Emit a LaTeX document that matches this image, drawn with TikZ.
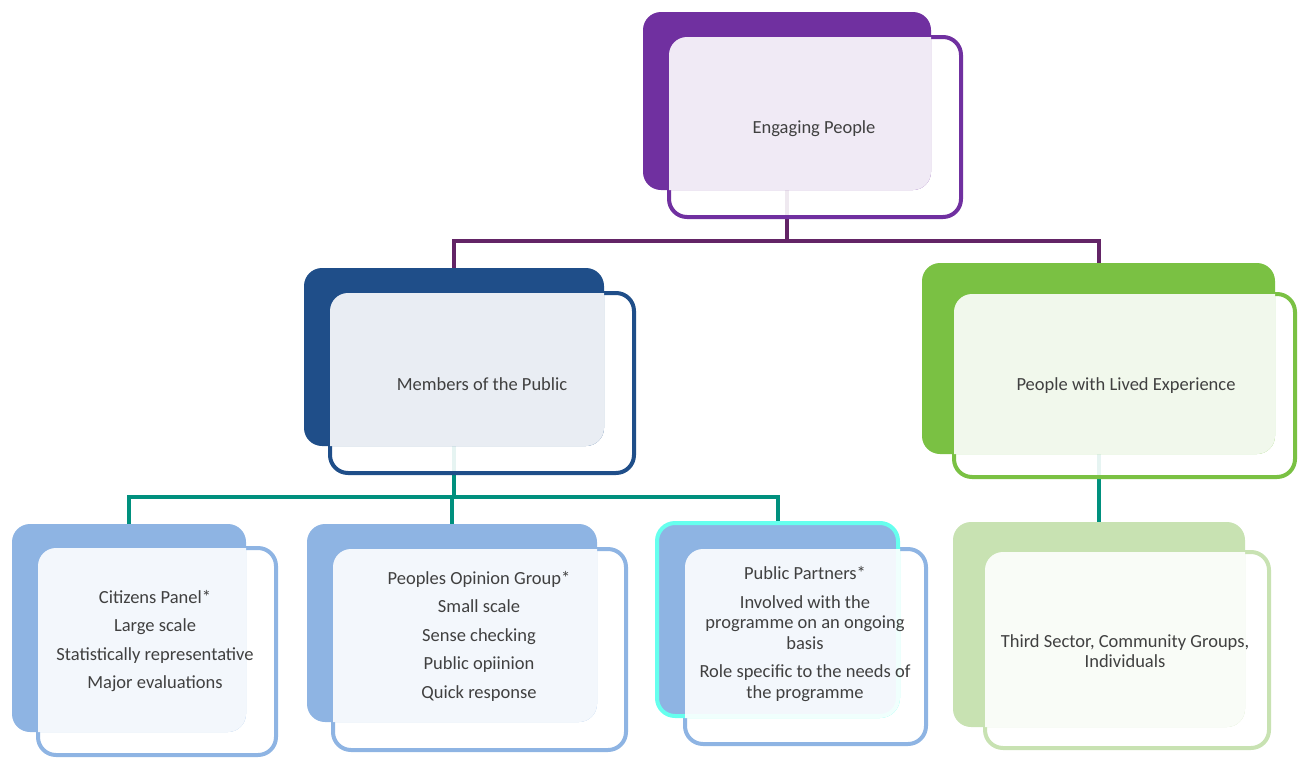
\documentclass[tikz,border=0pt]{standalone}
\usepackage{fontspec}
\setmainfont{Carlito}
\usetikzlibrary{backgrounds}
\definecolor{cPurple}{HTML}{7030A0}
\definecolor{cPurpleLine}{HTML}{632466}
\definecolor{cNavy}{HTML}{1F4E89}
\definecolor{cGreen}{HTML}{7AC143}
\definecolor{cSky}{HTML}{8EB4E3}
\definecolor{cCyan}{HTML}{66FFEE}
\definecolor{cPale}{HTML}{C8E2B2}
\definecolor{cTeal}{HTML}{00907E}
\definecolor{cText}{HTML}{404040}
\begin{document}
\begin{tikzpicture}[x=1pt,y=-1pt,
  backbox/.style={rectangle, rounded corners=18pt, inner sep=0pt, outer sep=0pt},
  outbox/.style={rectangle, rounded corners=18pt, inner sep=0pt, outer sep=0pt, line width=4pt, fill=white, fill opacity=0.9},
  panel/.style={fill=white, opacity=0.9},
  lbl/.style={align=center, text=cText, font=\fontsize{18.5}{20.5}\selectfont, inner sep=0pt},
  conn/.style={line width=4pt}]
\useasboundingbox (0,0) rectangle (1298,758);

% ---------- Engaging People
\node[outbox, draw=cPurple, minimum width=292pt, minimum height=180pt] (epO) at (815,127) {};
\node[backbox, fill=cPurple, minimum width=288pt, minimum height=178pt] (epB) at (787,101) {};
\begin{scope}
\clip[rounded corners=18pt] (epO.south west) rectangle (epO.north east);
\fill[panel, rounded corners=18pt] (epB.south west) rectangle (epB.north east);
\end{scope}
\node[lbl] (epT) at (814,129) {Engaging People};

% ---------- Members of the Public
\node[outbox, draw=cNavy, minimum width=304pt, minimum height=180pt] (mpO) at (482,383) {};
\node[backbox, fill=cNavy, minimum width=300pt, minimum height=178pt] (mpB) at (454,357) {};
\begin{scope}
\clip[rounded corners=18pt] (mpO.south west) rectangle (mpO.north east);
\fill[panel, rounded corners=18pt] (mpB.south west) rectangle (mpB.north east);
\end{scope}
\node[lbl] (mpT) at (482,384) {Members of the Public};

% ---------- People with Lived Experience
\node[outbox, draw=cGreen, minimum width=341pt, minimum height=183pt] (leO) at (1124.5,385.5) {};
\node[backbox, fill=cGreen, minimum width=353pt, minimum height=191pt] (leB) at (1098.5,358.5) {};
\begin{scope}
\clip[rounded corners=18pt] (leO.south west) rectangle (leO.north east);
\fill[panel, rounded corners=18pt] (leB.south west) rectangle (leB.north east);
\end{scope}
\node[lbl] (leT) at (1126,386) {People with Lived Experience};

% ---------- Citizens Panel
\node[outbox, draw=cSky, minimum width=238pt, minimum height=207pt] (cpO) at (157,651.5) {};
\node[backbox, fill=cSky, minimum width=234pt, minimum height=208pt] (cpB) at (129,628) {};
\begin{scope}
\clip[rounded corners=18pt] (cpO.south west) rectangle (cpO.north east);
\fill[panel, rounded corners=18pt] (cpB.south west) rectangle (cpB.north east);
\end{scope}
\node[lbl] (cpT) at (155,641) {Citizens Panel*\\[8pt]Large scale\\[8pt]Statistically representative\\[8pt]Major evaluations};

% ---------- Peoples Opinion Group
\node[outbox, draw=cSky, minimum width=293pt, minimum height=201pt] (pgO) at (479.5,649.5) {};
\node[backbox, fill=cSky, minimum width=290pt, minimum height=198pt] (pgB) at (452,623) {};
\begin{scope}
\clip[rounded corners=18pt] (pgO.south west) rectangle (pgO.north east);
\fill[panel, rounded corners=18pt] (pgB.south west) rectangle (pgB.north east);
\end{scope}
\node[lbl] (pgT) at (479,636) {Peoples Opinion Group*\\[8pt]Small scale\\[8pt]Sense checking\\[8pt]Public opiinion\\[8pt]Quick response};

% ---------- Public Partners
\node[outbox, draw=cSky, minimum width=241pt, minimum height=195pt] (ppO) at (805.5,646.5) {};
\node[backbox, fill=cSky, draw=cCyan, line width=4pt, outer sep=2pt, minimum width=241pt, minimum height=193pt] (ppB) at (777.5,619.5) {};
\begin{scope}
\clip[rounded corners=18pt] (ppO.south west) rectangle (ppO.north east);
\fill[panel, rounded corners=20pt] (ppB.south west) rectangle (ppB.north east);
\end{scope}
\node[lbl] (ppT) at (805,634) {Public Partners*\\[8pt]Involved with the\\programme on an ongoing\\basis\\[8pt]Role specific to the needs of\\the programme};

% ---------- Third Sector
\node[outbox, draw=cPale, minimum width=284pt, minimum height=196pt] (tsO) at (1127,650) {};
\node[backbox, fill=cPale, minimum width=292pt, minimum height=205pt] (tsB) at (1099,624.5) {};
\begin{scope}
\clip[rounded corners=18pt] (tsO.south west) rectangle (tsO.north east);
\fill[panel, rounded corners=18pt] (tsB.south west) rectangle (tsB.north east);
\end{scope}
\node[lbl] (tsT) at (1125,651) {Third Sector, Community Groups,\\Individuals};

% ---------- connectors
\coordinate (busA) at (0,241);
\coordinate (busB) at (0,497);
\begin{pgfonlayer}{background}
\draw[conn, cPurpleLine] (epB.south) -- (epB.south |- busA) -| (mpB.north);
\draw[conn, cPurpleLine] (epB.south |- busA) -| (leB.north);
\draw[conn, cTeal] (mpB.south) -- (mpB.south |- busB) -| (cpB.north);
\draw[conn, cTeal] (mpB.south |- busB) -| (pgB.north);
\draw[conn, cTeal] (mpB.south |- busB) -| (ppB.north);
\draw[conn, cTeal] (leB.south) -- (leB.south |- tsB.north);
\end{pgfonlayer}
\end{tikzpicture}
\end{document}
